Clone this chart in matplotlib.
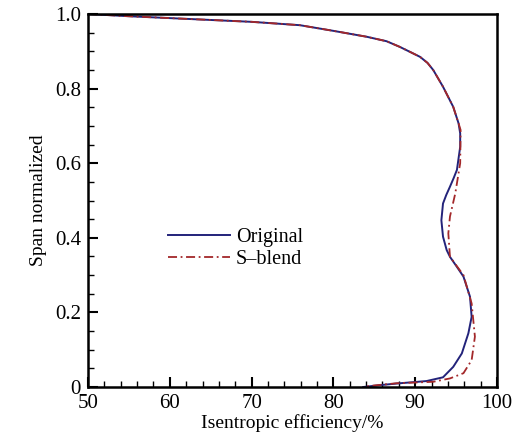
import matplotlib
matplotlib.use("Agg")
import matplotlib.pyplot as plt
from matplotlib.ticker import MultipleLocator

plt.rcParams['font.family'] = ['Liberation Serif', 'DejaVu Serif']

orig_eff = [50, 55, 60, 65, 70, 75.9, 79.95, 84.07, 86.5, 88.1, 89.5, 90.6, 91.5, 92.2, 93.4, 94.65, 95.3, 95.5,
            95.5, 95.1, 94.7, 94.25, 93.8, 93.4, 93.2, 93.4, 93.85, 94.25, 95.1, 95.9, 96.7, 96.9, 96.5, 95.7,
            94.65, 93.4, 91.4, 89.8, 88.1, 85.7, 83.65]
orig_span = [1.0, 0.994, 0.989, 0.984, 0.979, 0.970, 0.955, 0.939, 0.927, 0.912, 0.897, 0.885, 0.869, 0.850, 0.805, 0.751, 0.707, 0.680,
             0.644, 0.582, 0.560, 0.537, 0.515, 0.492, 0.447, 0.403, 0.367, 0.349, 0.322, 0.296, 0.242, 0.188, 0.144, 0.090,
             0.054, 0.026, 0.016, 0.013, 0.010, 0.005, 0.0]

blend_eff = [50, 55, 60, 65, 70, 75.9, 79.95, 84.07, 86.5, 88.1, 89.5, 90.6, 91.5, 92.2, 93.4, 94.65, 95.3, 95.55,
             95.5, 94.9, 94.25, 94.05, 94.25, 95.9, 96.9, 97.3, 96.9, 95.9, 94.25, 92.2,
             87.7, 84.5, 83.65]
blend_span = [1.0, 0.994, 0.989, 0.984, 0.979, 0.970, 0.955, 0.939, 0.927, 0.912, 0.897, 0.885, 0.869, 0.850, 0.805, 0.751, 0.707, 0.689,
              0.600, 0.519, 0.457, 0.412, 0.349, 0.300, 0.224, 0.135, 0.072, 0.037, 0.023, 0.014,
              0.010, 0.003, 0.0]

fig = plt.figure(figsize=(5.18, 4.41), dpi=100)
ax = fig.add_axes([88/518, 1 - 387/441, 409/518, 373/441])

ax.plot(orig_eff, orig_span, color='#23237a', lw=1.4, label='Original')
ax.plot(blend_eff, blend_span, color='#a3282a', lw=1.3, ls=(0, (5, 2, 1, 2)), label='S\u2013blend')

ax.set_xlim(50, 100)
ax.set_ylim(0, 1.0)
ax.xaxis.set_major_locator(MultipleLocator(10))
ax.xaxis.set_minor_locator(MultipleLocator(2))
ax.yaxis.set_minor_locator(MultipleLocator(0.05))
ax.set_yticks([0, 0.2, 0.4, 0.6, 0.8, 1.0])
ax.set_yticklabels(['0', '0.2', '0.4', '0.6', '0.8', '1.0'])
ax.tick_params(which='major', direction='in', length=7, width=1.5, labelsize=15)
ax.tick_params(axis='x', which='major', pad=5)
ax.tick_params(axis='y', which='major', pad=5)
ax.tick_params(which='minor', direction='in', length=4, width=1.0)
for s in ax.spines.values():
    s.set_linewidth(1.8)

ax.set_xlabel('Isentropic efficiency/%', fontsize=14, labelpad=1)
ax.set_ylabel('Span normalized', fontsize=14, labelpad=6)

leg = ax.legend(loc='upper left', bbox_to_anchor=(0.175, 0.448), frameon=False, fontsize=14.5,
                handlelength=3.1, handletextpad=0.3, labelspacing=0.15, borderaxespad=0)

fig.savefig('out.png', dpi=100)
